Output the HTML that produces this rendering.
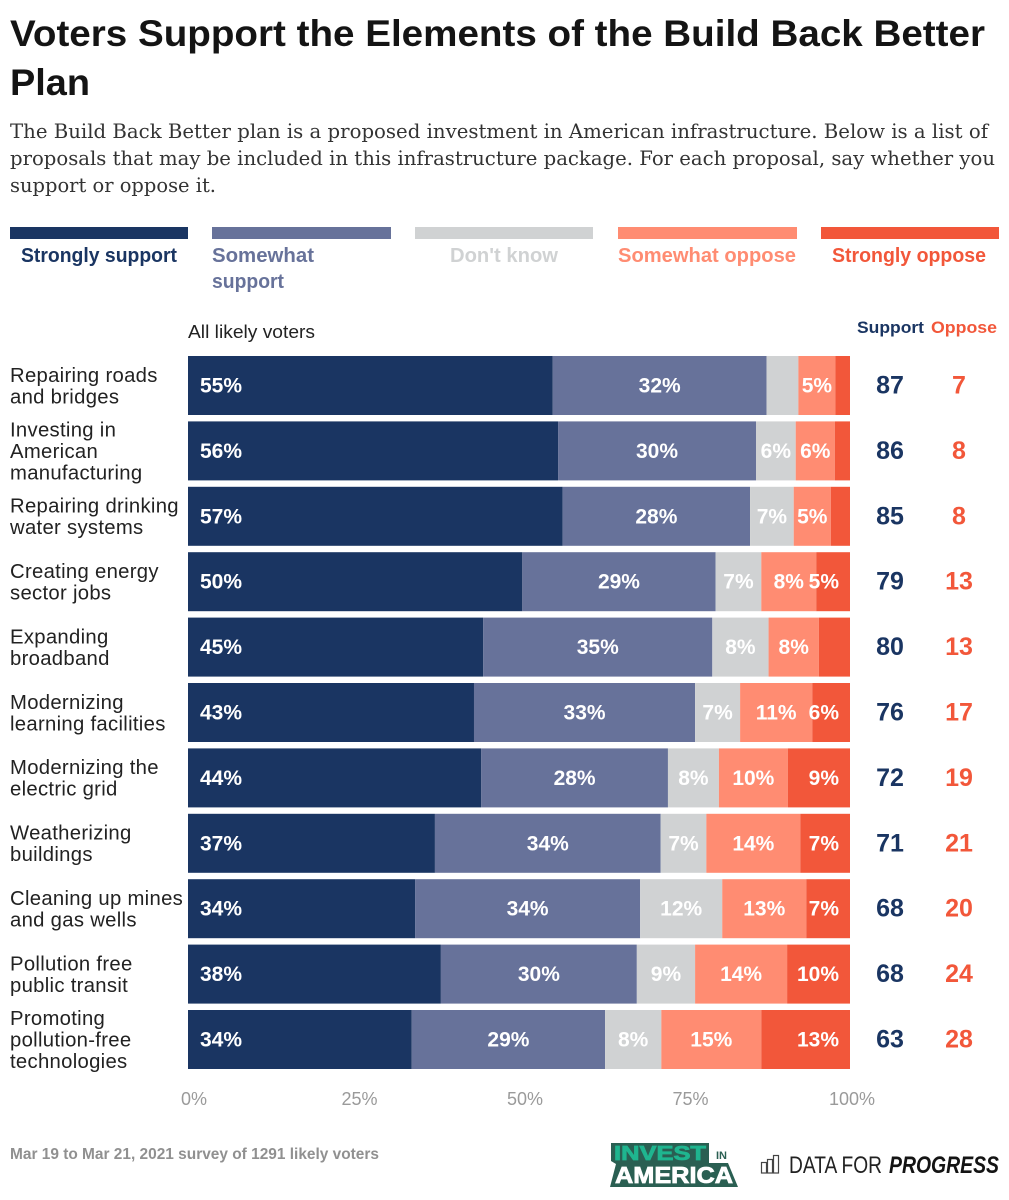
<!DOCTYPE html>
<html lang="en">
<head>
<meta charset="utf-8">
<title>Voters Support the Elements of the Build Back Better Plan</title>
<style>
html,body{margin:0;padding:0;background:#fff;}
svg{display:block;font-family:"Liberation Sans",sans-serif;}
</style>
</head>
<body>
<svg id="chart" width="1009" height="1200" viewBox="0 0 1009 1200" xmlns="http://www.w3.org/2000/svg">
  <rect x="0" y="0" width="1009" height="1200" fill="#ffffff"/>
  <g font-size="37" font-weight="700" fill="#141414">
    <text x="10" y="46" textLength="975" lengthAdjust="spacingAndGlyphs">Voters Support the Elements of the Build Back Better</text>
    <text x="10" y="95" textLength="80" lengthAdjust="spacingAndGlyphs">Plan</text>
  </g>
  <g font-family="'DejaVu Serif',serif" font-size="20" fill="#333333">
    <text x="10" y="138" textLength="978" lengthAdjust="spacingAndGlyphs">The Build Back Better plan is a proposed investment in American infrastructure. Below is a list of</text>
    <text x="10" y="165" textLength="985" lengthAdjust="spacingAndGlyphs">proposals that may be included in this infrastructure package. For each proposal, say whether you</text>
    <text x="10" y="192" textLength="206" lengthAdjust="spacingAndGlyphs">support or oppose it.</text>
  </g>
  <g font-size="20" font-weight="700">
    <rect x="10" y="227" width="178" height="12" fill="#1a3562"/>
    <text x="21" y="262" fill="#1a3562" textLength="156" lengthAdjust="spacingAndGlyphs">Strongly support</text>
    <rect x="212" y="227" width="179" height="12" fill="#67729a"/>
    <text x="212" y="262" fill="#67729a" textLength="102" lengthAdjust="spacingAndGlyphs">Somewhat</text>
    <text x="212" y="288" fill="#67729a" textLength="72" lengthAdjust="spacingAndGlyphs">support</text>
    <rect x="415" y="227" width="178" height="12" fill="#d0d2d3"/>
    <text x="450" y="262" fill="#d0d2d3" textLength="108" lengthAdjust="spacingAndGlyphs">Don't know</text>
    <rect x="618" y="227" width="179" height="12" fill="#ff8c72"/>
    <text x="618" y="262" fill="#ff8c72" textLength="178" lengthAdjust="spacingAndGlyphs">Somewhat oppose</text>
    <rect x="821" y="227" width="178" height="12" fill="#f2573a"/>
    <text x="832" y="262" fill="#f2573a" textLength="154" lengthAdjust="spacingAndGlyphs">Strongly oppose</text>
  </g>
  <text x="188" y="338" font-size="18" fill="#222222" textLength="127" lengthAdjust="spacingAndGlyphs">All likely voters</text>
  <text x="857" y="333" font-size="17" font-weight="700" fill="#1a3562" textLength="67" lengthAdjust="spacingAndGlyphs">Support</text>
  <text x="931" y="333" font-size="17" font-weight="700" fill="#f2573a" textLength="66" lengthAdjust="spacingAndGlyphs">Oppose</text>
  <g id="plot"></g>
  <text x="10" y="1159" font-size="15.5" font-weight="700" fill="#909090" textLength="369" lengthAdjust="spacingAndGlyphs">Mar 19 to Mar 21, 2021 survey of 1291 likely voters</text>
  <g>
    <polygon points="611,1143 709,1143 709,1163 728,1163 738,1187 610,1187 616,1164 611,1161" fill="#2a5f52"/>
    <text x="614" y="1160" font-size="20" font-weight="700" fill="#1fb58f" stroke="#1fb58f" stroke-width="0.8" textLength="92" lengthAdjust="spacingAndGlyphs">INVEST</text>
    <text x="716" y="1159" font-size="11" font-weight="700" fill="#2a5f52">IN</text>
    <text x="615" y="1183" font-size="23" font-weight="700" fill="#ffffff" stroke="#ffffff" stroke-width="0.8" textLength="118" lengthAdjust="spacingAndGlyphs">AMERICA</text>
  </g>
  <g>
    <g fill="none" stroke="#444444" stroke-width="1.2">
      <rect x="761.5" y="1162.5" width="5" height="10.5"/>
      <rect x="767.5" y="1159.5" width="5" height="13.5"/>
      <rect x="773.5" y="1155.5" width="5" height="17.5"/>
    </g>
    <text x="789" y="1173" font-size="24" fill="#222222" textLength="93" lengthAdjust="spacingAndGlyphs">DATA FOR</text>
    <text x="889" y="1173" font-size="24" font-weight="700" font-style="italic" fill="#141414" textLength="110" lengthAdjust="spacingAndGlyphs">PROGRESS</text>
  </g>
</svg>
<script>
const categories = [
  ["Repairing roads", "and bridges"],
  ["Investing in", "American", "manufacturing"],
  ["Repairing drinking", "water systems"],
  ["Creating energy", "sector jobs"],
  ["Expanding", "broadband"],
  ["Modernizing", "learning facilities"],
  ["Modernizing the", "electric grid"],
  ["Weatherizing", "buildings"],
  ["Cleaning up mines", "and gas wells"],
  ["Pollution free", "public transit"],
  ["Promoting", "pollution-free", "technologies"]
];
const stronglySupport = [55.1, 55.9, 56.6, 50.5, 44.6, 43.2, 44.3, 37.3, 34.3, 38.2, 33.8];
const somewhatSupport = [32.3, 29.9, 28.3, 29.2, 34.6, 33.4, 28.2, 34.1, 34.0, 29.6, 29.2];
const dontKnow = [4.8, 6.0, 6.6, 6.9, 8.5, 6.8, 7.7, 6.9, 12.4, 8.8, 8.5];
const somewhatOppose = [5.6, 5.9, 5.6, 8.3, 7.6, 10.9, 10.4, 14.2, 12.7, 13.9, 15.1];
const stronglyOppose = [2.2, 2.3, 2.9, 5.1, 4.7, 5.7, 9.4, 7.5, 6.6, 9.5, 13.4];
const stronglySupportLabels = ["55%", "56%", "57%", "50%", "45%", "43%", "44%", "37%", "34%", "38%", "34%"];
const somewhatSupportLabels = ["32%", "30%", "28%", "29%", "35%", "33%", "28%", "34%", "34%", "30%", "29%"];
const dontKnowLabels = ["", "6%", "7%", "7%", "8%", "7%", "8%", "7%", "12%", "9%", "8%"];
const somewhatOpposeLabels = ["5%", "6%", "5%", "8%", "8%", "11%", "10%", "14%", "13%", "14%", "15%"];
const stronglyOpposeLabels = ["", "", "", "5%", "", "6%", "9%", "7%", "7%", "10%", "13%"];
const supportTotals = [87, 86, 85, 79, 80, 76, 72, 71, 68, 68, 63];
const opposeTotals = [7, 8, 8, 13, 13, 17, 19, 21, 20, 24, 28];
const axisTicks = [0, 25, 50, 75, 100];

const seriesNames = ["strongly-support", "somewhat-support", "dont-know", "somewhat-oppose", "strongly-oppose"];
const seriesValues = [stronglySupport, somewhatSupport, dontKnow, somewhatOppose, stronglyOppose];
const seriesLabels = [stronglySupportLabels, somewhatSupportLabels, dontKnowLabels, somewhatOpposeLabels, stronglyOpposeLabels];
const seriesColors = ["#1a3562", "#67729a", "#d0d2d3", "#ff8c72", "#f2573a"];

const SVG_NS = "http://www.w3.org/2000/svg";
const plot = document.getElementById("plot");
const xLeft = 188, xRight = 850, rowTop = 356, rowStep = 65.4, barHeight = 59;
const xScale = function (v) { return xLeft + (xRight - xLeft) * v / 100; };
const yScale = function (i) { return rowTop + rowStep * i; };

function svgEl(tag, attrs, parent, text) {
  const el = document.createElementNS(SVG_NS, tag);
  for (const k in attrs) el.setAttribute(k, attrs[k]);
  if (text !== undefined) el.textContent = text;
  parent.appendChild(el);
  return el;
}

categories.forEach(function (lines, i) {
  const top = yScale(i);
  const mid = top + barHeight / 2;
  const row = svgEl("g", {}, plot);
  
  

  lines.forEach(function (line, j) {
    const baseline = mid + 7 + (j - (lines.length - 1) / 2) * 21.5;
    const label = svgEl("text", { x: 10, y: baseline, "font-size": 20.3, "letter-spacing": 0.3, fill: "#222222" }, row, line);
    
    
  });

  let cum = 0;
  seriesValues.forEach(function (values, s) {
    const v = values[i];
    const x0 = xScale(cum);
    const x1 = xScale(cum + v);
    const bar = svgEl("rect", { x: x0, y: top, width: x1 - x0, height: barHeight, fill: seriesColors[s] }, row);
    
    
    cum += v;
  });

  cum = 0;
  seriesValues.forEach(function (values, s) {
    const v = values[i];
    const txt = seriesLabels[s][i];
    if (txt) {
      let lx = xScale(cum + v / 2);
      let anchor = "middle";
      if (s === 0) { lx = xScale(cum) + 12; anchor = "start"; }
      if (s === seriesValues.length - 1) { lx = xScale(cum + v) - 11; anchor = "end"; }
      const valueLabel = svgEl("text", { x: lx, y: mid + 7, "text-anchor": anchor, "font-size": 21, "font-weight": 700, fill: "#ffffff" }, row, txt);
      
      
    }
    cum += v;
  });

  const sup = svgEl("text", { x: 890, y: mid + 8, "text-anchor": "middle", "font-size": 25, "font-weight": 700, fill: "#1a3562" }, row, String(supportTotals[i]));
  
  
  const opp = svgEl("text", { x: 959, y: mid + 8, "text-anchor": "middle", "font-size": 25, "font-weight": 700, fill: "#f2573a" }, row, String(opposeTotals[i]));
  
  
});

axisTicks.forEach(function (t) {
  const offset = t === 100 ? 2 : 6;
  const tick = svgEl("text", { x: xScale(t) + offset, y: 1105, "text-anchor": "middle", "font-size": 18, fill: "#9a9a9a" }, plot, t + "%");
  
  
});
</script>
</body>
</html>
